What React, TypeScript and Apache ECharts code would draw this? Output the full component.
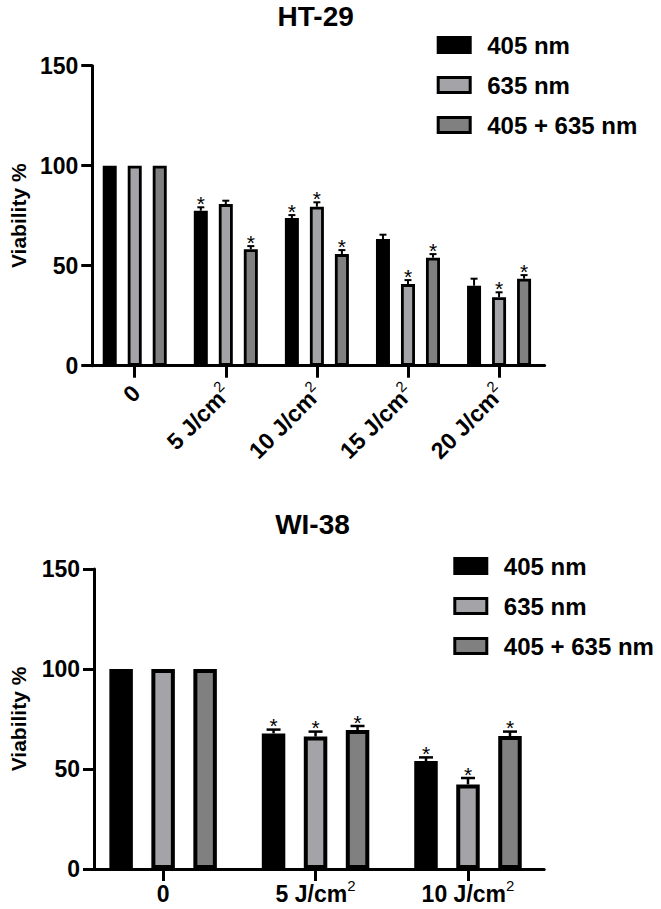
import React, { useEffect, useRef } from 'react';
import * as echarts from 'echarts';

// HT-29 cell line: viability (%) per light dose
const HT_DOSES = ['0', '5', '10', '15', '20'];
const HT_405 = [100, 77.5, 73.8, 63.3, 40.0];
const HT_405_ERR = [0, 1.7, 1.5, 2.2, 3.5];
const HT_405_SIG = [0, 1, 1, 0, 0];
const HT_635 = [100, 80.8, 79.5, 40.8, 34.2];
const HT_635_ERR = [0, 1.7, 2.2, 2.0, 2.5];
const HT_635_SIG = [0, 0, 1, 1, 1];
const HT_COMBO = [100, 58.2, 55.8, 54.0, 43.5];
const HT_COMBO_ERR = [0, 1.6, 2.0, 1.8, 1.8];
const HT_COMBO_SIG = [0, 1, 1, 1, 1];

// WI-38 cell line: viability (%) per light dose
const WI_DOSES = ['0', '5', '10'];
const WI_405 = [100, 67.8, 54.0];
const WI_405_ERR = [0, 1.9, 1.8];
const WI_405_SIG = [0, 1, 1];
const WI_635 = [100, 66.2, 42.3];
const WI_635_ERR = [0, 2.5, 3.2];
const WI_635_SIG = [0, 1, 1];
const WI_COMBO = [100, 69.5, 66.5];
const WI_COMBO_ERR = [0, 2.0, 2.2];
const WI_COMBO_SIG = [0, 1, 1];

const SERIES_NAMES = ['405 nm', '635 nm', '405 + 635 nm'];
const Y_MIN = 0;
const Y_MAX = 150;
const Y_STEP = 50;

const COLORS = ['#000000', '#a4a4a8', '#808080'];
const FONT = '"Liberation Sans", Arial, Helvetica, sans-serif';

type Panel = {
  title: string;
  doses: string[];
  values: number[][];
  errors: number[][];
  sig: number[][];
  gridLeft: number;
  gridTop: number;
  gridWidth: number;
  yOffset: number;
  barWidth: number;
  barGap: number;
  border: number;
  capWidth: number;
  errWidth: number;
  rotate: number;
  labelMargin: number;
  nameGap: number;
  titleX: number;
  titleY: number;
  legendX: number;
  legendY: number;
};

const PANELS: Panel[] = [
  {
    title: 'HT-29',
    doses: HT_DOSES,
    values: [HT_405, HT_635, HT_COMBO],
    errors: [HT_405_ERR, HT_635_ERR, HT_COMBO_ERR],
    sig: [HT_405_SIG, HT_635_SIG, HT_COMBO_SIG],
    gridLeft: 87.6,
    gridTop: 65.7,
    gridWidth: 457,
    yOffset: -3.1,
    barWidth: 14,
    barGap: 0.786,
    border: 2.8,
    capWidth: 7,
    errWidth: 2,
    rotate: 45,
    labelMargin: 22,
    nameGap: 60,
    titleX: 315.7,
    titleY: 2,
    legendX: 436.7,
    legendY: 33,
  },
  {
    title: 'WI-38',
    doses: WI_DOSES,
    values: [WI_405, WI_635, WI_COMBO],
    errors: [WI_405_ERR, WI_635_ERR, WI_COMBO_ERR],
    sig: [WI_405_SIG, WI_635_SIG, WI_COMBO_SIG],
    gridLeft: 80.2,
    gridTop: 569,
    gridWidth: 464,
    yOffset: -7.1,
    barWidth: 23.5,
    barGap: 0.787,
    border: 4,
    capWidth: 14,
    errWidth: 2.5,
    rotate: 0,
    labelMargin: 9,
    nameGap: 65,
    titleX: 312.5,
    titleY: 510,
    legendX: 453.3,
    legendY: 554,
  },
];

function doseLabel(v: string): string {
  return v === '0' ? '{b|0}' : `{b|${v} J/cm}{s|2}`;
}

function buildOption() {
  const grid: any[] = [];
  const xAxis: any[] = [];
  const yAxis: any[] = [];
  const series: any[] = [];
  const legend: any[] = [];
  const title: any[] = [];

  PANELS.forEach((p, pi) => {
    grid.push({ left: p.gridLeft, top: p.gridTop, width: p.gridWidth, height: 300 });
    title.push({
      text: p.title,
      left: p.titleX,
      top: p.titleY,
      textAlign: 'center',
      padding: 0,
      textStyle: { fontSize: 28, fontWeight: 'bold', color: '#000', fontFamily: FONT },
    });
    legend.push({
      orient: 'vertical',
      left: p.legendX,
      top: p.legendY,
      padding: 0,
      itemWidth: 32,
      itemHeight: 15,
      itemGap: 16,
      icon: 'rect',
      selectedMode: false,
      data: SERIES_NAMES,
      itemStyle: { borderColor: '#000', borderWidth: 3 },
      textStyle: {
        fontSize: 24,
        fontWeight: 'bold',
        color: '#000',
        fontFamily: FONT,
        lineHeight: 24,
        padding: [0, 0, 0, 12],
      },
    });
    xAxis.push({
      type: 'category',
      gridIndex: pi,
      data: p.doses,
      axisLine: { show: true, lineStyle: { color: '#000', width: 3 } },
      axisTick: { show: true, alignWithLabel: true, length: 12, lineStyle: { color: '#000', width: 3 } },
      axisLabel: {
        interval: 0,
        rotate: p.rotate,
        margin: p.labelMargin,
        formatter: doseLabel,
        rich: {
          b: { fontSize: 23, fontWeight: 'bold', color: '#000', fontFamily: FONT, lineHeight: 27, verticalAlign: 'bottom' },
          s: { fontSize: 15, fontWeight: 'normal', color: '#000', fontFamily: FONT, lineHeight: 15, verticalAlign: 'top' },
        },
      },
      splitLine: { show: false },
    });
    yAxis.push({
      type: 'value',
      gridIndex: pi,
      min: Y_MIN,
      max: Y_MAX,
      interval: Y_STEP,
      offset: p.yOffset,
      name: 'Viability %',
      nameLocation: 'middle',
      nameRotate: 90,
      nameGap: p.nameGap,
      nameTextStyle: { fontSize: 21, fontWeight: 'bold', color: '#000', fontFamily: FONT },
      axisLine: { show: true, lineStyle: { color: '#000', width: 3 } },
      axisTick: { show: true, length: 11, lineStyle: { color: '#000', width: 3 } },
      axisLabel: { margin: 14, fontSize: 23, fontWeight: 'bold', color: '#000', fontFamily: FONT },
      splitLine: { show: false },
    });

    const step = p.barWidth * (1 + p.barGap);
    p.values.forEach((vals, si) => {
      series.push({
        type: 'bar',
        name: SERIES_NAMES[si],
        xAxisIndex: pi,
        yAxisIndex: pi,
        data: vals,
        barWidth: p.barWidth,
        barGap: `${(p.barGap * 100).toFixed(1)}%`,
        itemStyle: { color: COLORS[si], borderColor: '#000', borderWidth: p.border },
        z: 2,
      });
      const shift = (si - 1) * step;
      const errData = vals.map((v, i) => [i, v, p.errors[si][i], p.sig[si][i]]);
      series.push({
        type: 'custom',
        name: `err-${pi}-${si}`,
        xAxisIndex: pi,
        yAxisIndex: pi,
        data: errData,
        encode: { x: 0, y: 1 },
        z: 3,
        silent: true,
        renderItem: (params: any, api: any) => {
          const ci = api.value(0);
          const v = api.value(1);
          const e = api.value(2);
          const s = api.value(3);
          const base = api.coord([ci, v]);
          const top = api.coord([ci, v + e]);
          const cx = base[0] + shift;
          const children: any[] = [];
          if (e > 0) {
            children.push({
              type: 'line',
              shape: { x1: cx, y1: base[1], x2: cx, y2: top[1] },
              style: { stroke: '#000', lineWidth: p.errWidth },
            });
            children.push({
              type: 'line',
              shape: { x1: cx - p.capWidth / 2, y1: top[1], x2: cx + p.capWidth / 2, y2: top[1] },
              style: { stroke: '#000', lineWidth: p.errWidth },
            });
          }
          if (s) {
            children.push({
              type: 'text',
              x: cx,
              y: top[1] - 4,
              style: {
                text: '*',
                fontSize: 21,
                fontFamily: FONT,
                fill: '#000',
                align: 'center',
                verticalAlign: 'middle',
              },
            });
          }
          return { type: 'group', children };
        },
      });
    });
  });

  return {
    animation: false,
    backgroundColor: '#ffffff',
    title,
    legend,
    grid,
    xAxis,
    yAxis,
    series,
  };
}

export default function App() {
  const ref = useRef<HTMLDivElement>(null);

  useEffect(() => {
    if (!ref.current) return;
    const chart = echarts.init(ref.current, undefined, { renderer: 'svg' });
    chart.setOption(buildOption() as any);
    return () => chart.dispose();
  }, []);

  return (
    <div
      ref={ref}
      style={{ position: 'absolute', left: 0, top: 0, width: 661, height: 909, background: '#fff' }}
    />
  );
}
